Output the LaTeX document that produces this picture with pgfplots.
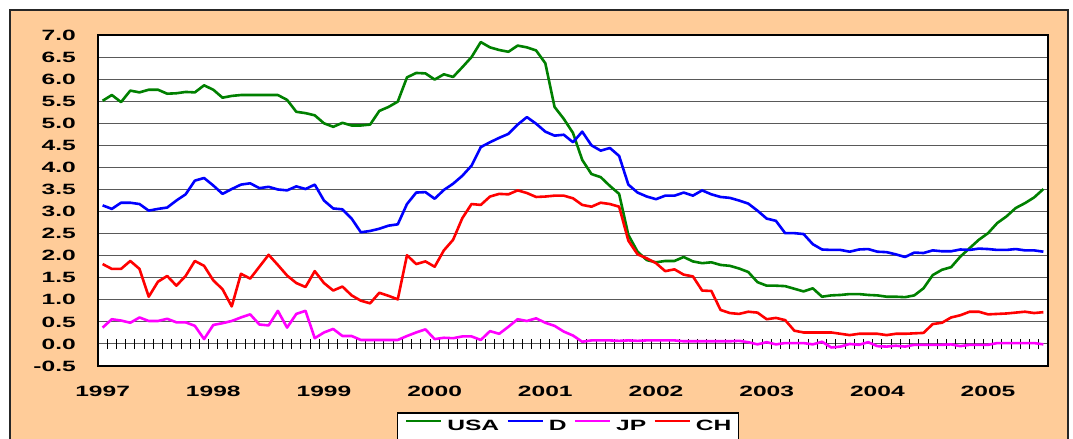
\documentclass[border=0pt]{standalone}
\usepackage{fontspec}
\setmainfont{Liberation Sans}
\usepackage{graphicx}
\usepackage{pgfplots}
\usepackage{pgfplotstable}
\pgfplotsset{compat=1.18}

\definecolor{frameorange}{RGB}{255,204,153}
\definecolor{usagreen}{RGB}{0,128,0}
\definecolor{dblue}{RGB}{0,0,255}
\definecolor{jpmagenta}{RGB}{255,0,255}
\definecolor{chred}{RGB}{255,0,0}

\newcommand\lblfont{\fontsize{14.9bp}{16bp}\selectfont\bfseries}
\newcommand\sx[1]{\scalebox{1.65}[1]{#1}}

% monthly yields, Jan 1997 (0) to Jul 2005 (102)
\pgfplotstableread{
i usa d jp ch
0 5.51 3.14 0.37 1.81
1 5.64 3.06 0.56 1.70
2 5.48 3.20 0.53 1.70
3 5.74 3.20 0.48 1.88
4 5.70 3.17 0.60 1.70
5 5.76 3.02 0.52 1.07
6 5.76 3.06 0.52 1.41
7 5.67 3.09 0.57 1.54
8 5.68 3.25 0.49 1.32
9 5.71 3.39 0.49 1.54
10 5.70 3.70 0.41 1.88
11 5.86 3.76 0.11 1.77
12 5.76 3.59 0.43 1.44
13 5.58 3.40 0.47 1.24
14 5.62 3.51 0.52 0.85
15 5.64 3.61 0.60 1.59
16 5.64 3.64 0.67 1.48
17 5.64 3.53 0.44 1.75
18 5.64 3.56 0.42 2.02
19 5.64 3.50 0.75 1.79
20 5.53 3.48 0.37 1.55
21 5.26 3.57 0.68 1.38
22 5.23 3.51 0.75 1.29
23 5.18 3.61 0.13 1.65
24 5.00 3.25 0.26 1.38
25 4.92 3.07 0.34 1.21
26 5.01 3.05 0.18 1.30
27 4.95 2.84 0.18 1.10
28 4.95 2.53 0.09 0.98
29 4.97 2.56 0.09 0.92
30 5.28 2.61 0.09 1.16
31 5.37 2.68 0.09 1.09
32 5.49 2.71 0.09 1.01
33 6.04 3.17 0.18 2.01
34 6.14 3.43 0.26 1.81
35 6.13 3.44 0.33 1.87
36 5.99 3.29 0.11 1.75
37 6.11 3.49 0.14 2.12
38 6.05 3.63 0.13 2.36
39 6.27 3.81 0.17 2.85
40 6.50 4.04 0.17 3.17
41 6.84 4.46 0.09 3.15
42 6.72 4.57 0.29 3.34
43 6.66 4.67 0.23 3.40
44 6.62 4.76 0.39 3.39
45 6.76 4.97 0.56 3.48
46 6.72 5.14 0.52 3.42
47 6.65 4.99 0.58 3.33
48 6.36 4.81 0.48 3.34
49 5.37 4.72 0.41 3.36
50 5.10 4.74 0.28 3.36
51 4.78 4.57 0.19 3.30
52 4.17 4.81 0.05 3.15
53 3.85 4.50 0.08 3.11
54 3.78 4.38 0.08 3.20
55 3.58 4.44 0.08 3.17
56 3.40 4.26 0.07 3.11
57 2.47 3.61 0.08 2.34
58 2.09 3.43 0.07 2.03
59 1.90 3.34 0.08 1.94
60 1.85 3.28 0.08 1.83
61 1.88 3.36 0.08 1.65
62 1.88 3.36 0.08 1.69
63 1.97 3.43 0.06 1.57
64 1.87 3.36 0.06 1.53
65 1.83 3.48 0.06 1.21
66 1.85 3.39 0.06 1.20
67 1.79 3.33 0.06 0.77
68 1.77 3.31 0.06 0.70
69 1.71 3.25 0.07 0.68
70 1.63 3.18 0.04 0.73
71 1.40 3.02 -0.01 0.71
72 1.32 2.84 0.04 0.56
73 1.32 2.79 -0.01 0.59
74 1.31 2.51 0.02 0.54
75 1.25 2.51 0.02 0.30
76 1.19 2.49 0.02 0.26
77 1.26 2.26 -0.01 0.26
78 1.07 2.14 0.05 0.26
79 1.10 2.13 -0.08 0.26
80 1.11 2.13 -0.06 0.23
81 1.13 2.09 0.00 0.20
82 1.13 2.14 -0.02 0.23
83 1.11 2.15 0.04 0.23
84 1.10 2.09 -0.05 0.23
85 1.07 2.08 -0.06 0.20
86 1.07 2.03 -0.04 0.23
87 1.06 1.97 -0.06 0.23
88 1.10 2.07 -0.02 0.24
89 1.26 2.06 -0.02 0.25
90 1.56 2.12 -0.02 0.45
91 1.68 2.10 -0.02 0.48
92 1.74 2.10 -0.01 0.60
93 1.98 2.14 -0.05 0.65
94 2.17 2.13 -0.02 0.73
95 2.36 2.16 -0.02 0.73
96 2.51 2.15 -0.02 0.67
97 2.74 2.13 0.02 0.68
98 2.89 2.13 0.02 0.69
99 3.08 2.15 0.02 0.71
100 3.19 2.12 0.02 0.73
101 3.32 2.12 0.02 0.70
102 3.51 2.09 -0.01 0.72
}\rates

\begin{document}
\begin{tikzpicture}
\useasboundingbox (0bp,0bp) rectangle (1073bp,-439bp);
% outer orange chart area
\draw[line width=2bp, black!85, fill=frameorange] (10bp,-9.5bp) rectangle (1068bp,-460bp);

\begin{axis}[
  scale only axis,
  width=950bp, height=331bp,
  at={(98bp,-366bp)}, anchor=south west,
  xmin=-0.5, xmax=102.5,
  ymin=-0.5, ymax=7,
  axis background/.style={fill=white},
  axis line style={line width=2bp, black},
  ytick={-0.5,0,0.5,1,1.5,2,2.5,3,3.5,4,4.5,5,5.5,6,6.5,7},
  yticklabels={\sx{-0.5},\sx{0.0},\sx{0.5},\sx{1.0},\sx{1.5},\sx{2.0},\sx{2.5},\sx{3.0},\sx{3.5},\sx{4.0},\sx{4.5},\sx{5.0},\sx{5.5},\sx{6.0},\sx{6.5},\sx{7.0}},
  xtick={0,12,24,36,48,60,72,84,96},
  xticklabels={\sx{1997},\sx{1998},\sx{1999},\sx{2000},\sx{2001},\sx{2002},\sx{2003},\sx{2004},\sx{2005}},
  major tick length=0pt,
  ymajorgrids,
  grid style={black!65, line width=0.9bp},
  tick label style={font=\lblfont, inner sep=0pt},
  yticklabel style={anchor=east, xshift=-22bp},
  xticklabel style={anchor=north, yshift=-20bp},
  legend columns=4,
  legend style={at={(0.3147,-0.139)}, anchor=north west,
    draw=black, line width=1.5bp, fill=white,
    inner xsep=7bp, inner ysep=7bp, font=\lblfont,
    nodes={inner sep=0pt},
    column sep=5bp,
    /tikz/every even column/.append style={column sep=7bp}},
  legend image code/.code={\draw[#1] (0bp,5.3bp) -- (35bp,5.3bp);},
  every axis plot/.append style={line width=2.6bp, line join=round, no marks},
]
% month ticks crossing the zero line
\pgfplotsinvokeforeach{0,...,101}{
  \draw[black, line width=1bp] (axis cs:#1+0.5,-0.115) -- (axis cs:#1+0.5,0.115);
}
\addplot[usagreen] table[x=i, y=usa] {\rates};
\addlegendentry{\sx{USA}}
\addplot[dblue] table[x=i, y=d] {\rates};
\addlegendentry{\sx{D}}
\addplot[jpmagenta] table[x=i, y=jp] {\rates};
\addlegendentry{\sx{JP}}
\addplot[chred] table[x=i, y=ch] {\rates};
\addlegendentry{\sx{CH}}
\end{axis}
\end{tikzpicture}
\end{document}
